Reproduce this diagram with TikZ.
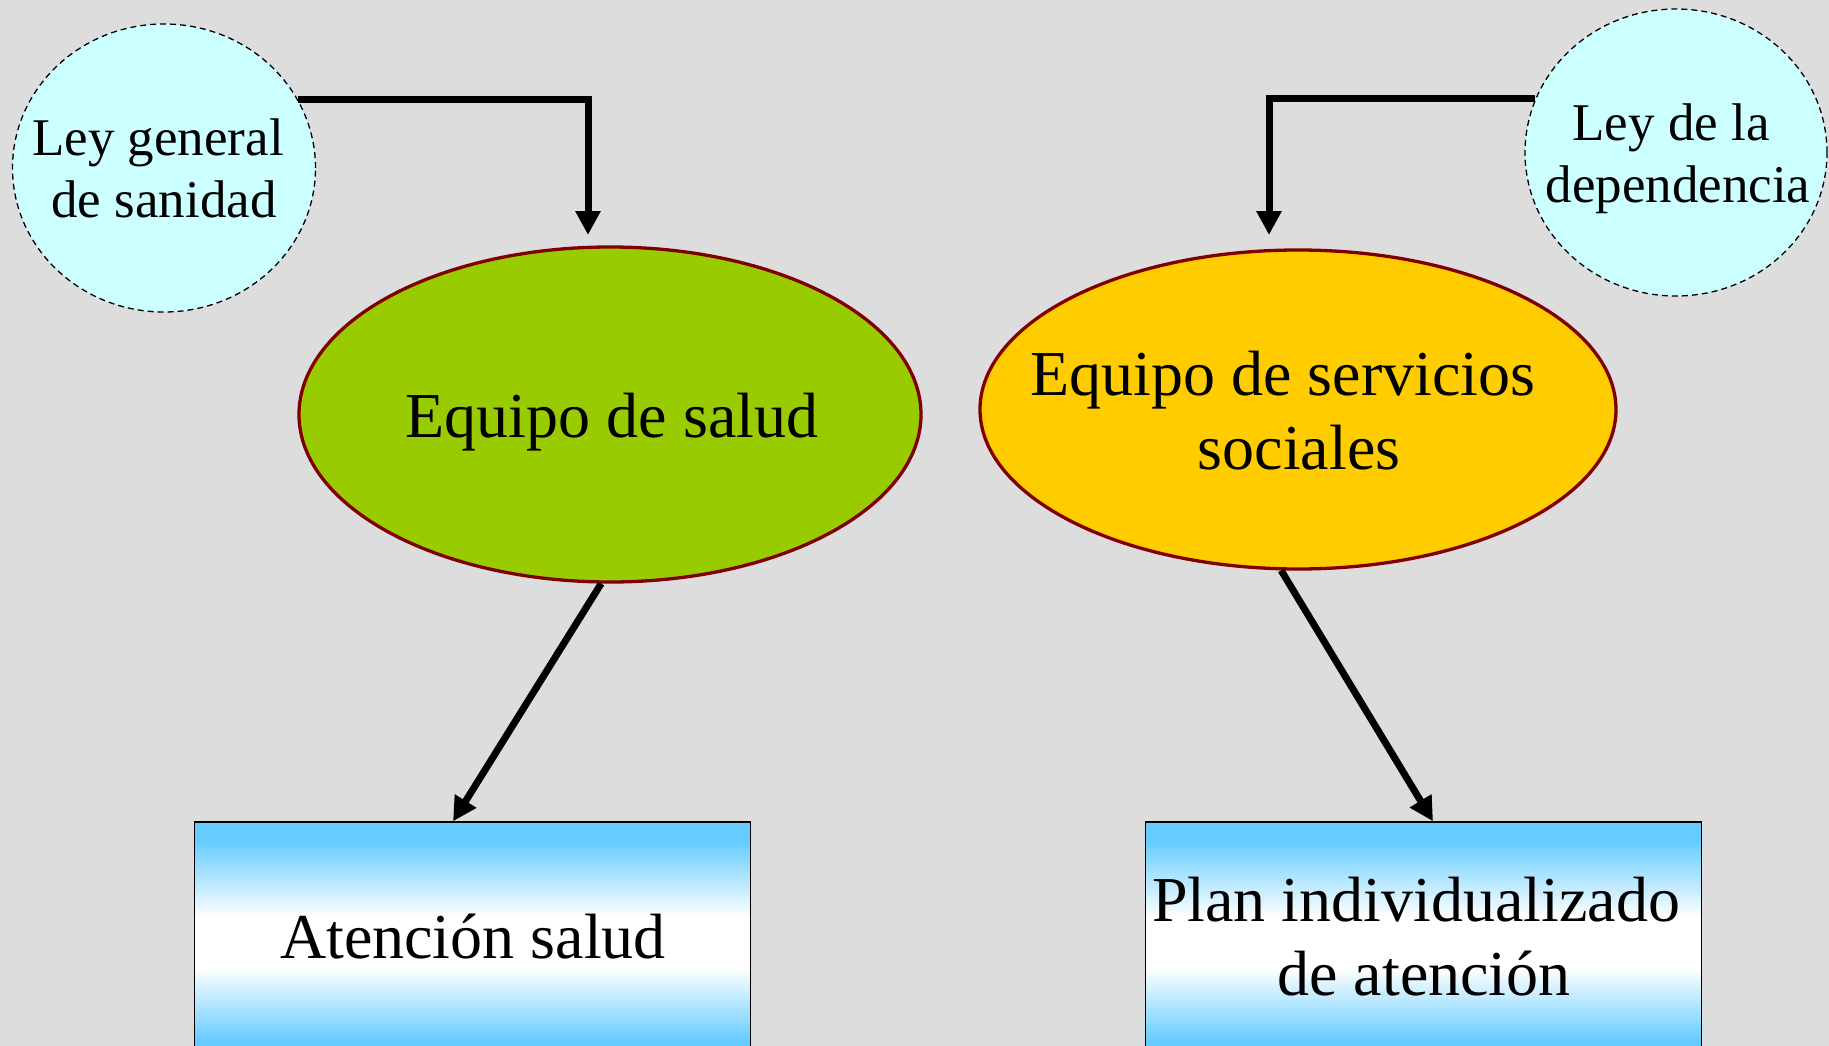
\documentclass[tikz,border=0pt]{standalone}
\usepackage{fontspec}
\setmainfont{Liberation Serif}
\usetikzlibrary{shapes.geometric,arrows.meta}
\definecolor{bgc}{HTML}{DDDDDD}
\definecolor{lawfill}{HTML}{CCFFFF}
\definecolor{greenfill}{HTML}{99CC00}
\definecolor{yellowfill}{HTML}{FFCC00}
\definecolor{teamborder}{HTML}{800000}
\definecolor{boxblue}{HTML}{66CCFF}
\pgfdeclareverticalshading{boxshade}{100bp}{color(0bp)=(boxblue); color(27bp)=(boxblue); color(43bp)=(white); color(54bp)=(white); color(71bp)=(boxblue); color(100bp)=(boxblue)}
\begin{document}
\begin{tikzpicture}[x=1pt,y=-1pt,
  law/.style={ellipse, draw=black, dash pattern=on 6pt off 4pt, line width=1.3pt, fill=lawfill, inner sep=0pt},
  team/.style={ellipse, draw=teamborder, line width=3.3pt, inner sep=0pt},
  outcome/.style={rectangle, draw=black, line width=1.3pt, shading=boxshade, minimum width=556pt, minimum height=228pt, inner sep=0pt},
  lawtext/.style={font=\fontsize{53}{62}\selectfont, align=center, inner sep=0pt, anchor=north},
  bigtext/.style={font=\fontsize{64}{73.6}\selectfont, align=center, inner sep=0pt},
  conn/.style={line width=7pt, -{Triangle[length=24pt,width=24pt]}},
]
\useasboundingbox (0,0) rectangle (1829,1046);
\clip (0,0) rectangle (1829,1046);
\fill[bgc] (0,0) rectangle (1829,1046);

% shapes
\node[law, minimum width=303pt, minimum height=288pt] (leyA) at (164,168) {};
\node[law, minimum width=302pt, minimum height=287pt] (leyB) at (1676,152.5) {};
\node[team, fill=greenfill, minimum width=622pt, minimum height=335pt] (salud) at (610,414.5) {};
\node[team, fill=yellowfill, minimum width=636pt, minimum height=319pt] (social) at (1298,409.5) {};
\node[outcome] (atencion) at (472.5,936) {};
\node[outcome] (plan) at (1423.5,936) {};

% texts
\node[lawtext] (leyAtext) at (164,118.8) {Ley general\hspace*{12pt}\\de sanidad};
\node[lawtext] (leyBtext) at (1678,103.8) {Ley de la\hspace*{14pt}\\dependencia};
\node[bigtext, anchor=base] (saludtext) at (612,437) {Equipo de salud};
\node[bigtext, anchor=north] (socialtext) at (1299,351.3) {Equipo de servicios\hspace*{32pt}\\sociales};
\node[bigtext, anchor=base] (atenciontext) at (473,958) {Atención salud};
\node[bigtext, anchor=north] (plantext) at (1424,877.3) {Plan individualizado\hspace*{16pt}\\de atención};

% connectors
\coordinate (tipA) at (588,235);
\coordinate (tipB) at (1269,235);
\draw[conn] (leyA.27) -| (tipA);
\draw[conn] (leyB.159) -| (tipB);
\draw[conn] (salud.267) -- ([xshift=-19.5pt]atencion.north);
\draw[conn] (social.264.5) -- ([xshift=9.5pt]plan.north);
\end{tikzpicture}
\end{document}
